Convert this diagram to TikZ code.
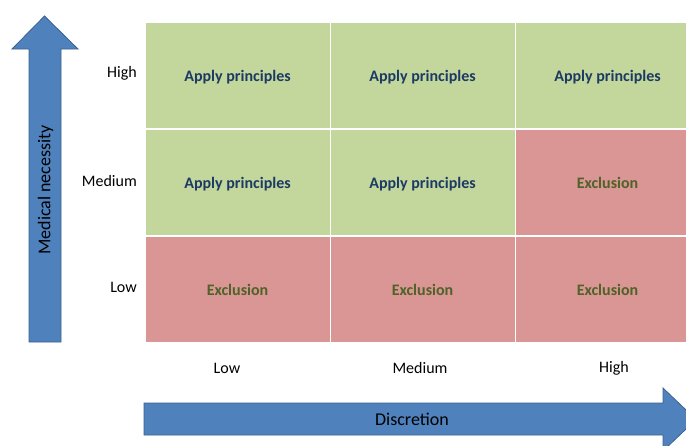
\documentclass[tikz,border=0pt]{standalone}
\usepackage{fontspec}
\setmainfont{Carlito}
\definecolor{arrowblue}{HTML}{4F81BD}
\definecolor{arrowedge}{HTML}{3A6292}
\definecolor{cellgreen}{HTML}{C3D69B}
\definecolor{cellred}{HTML}{D99694}
\definecolor{applytext}{HTML}{1B3A64}
\definecolor{excltext}{HTML}{4F6228}
\tikzset{
  cell/.style={minimum width=184pt, minimum height=105pt, inner sep=0pt, text height=11pt, text depth=0pt, draw=none, font=\fontsize{16}{19}\selectfont\bfseries},
  okcell/.style={cell, fill=cellgreen, text=applytext},
  excell/.style={cell, fill=cellred, text=excltext},
  axlabel/.style={font=\fontsize{16}{19}\selectfont, text=black, inner sep=0pt},
  bigarrow/.style={fill=arrowblue, draw=arrowedge, line width=0.8pt, line join=miter},
  arrowtext/.style={font=\fontsize{18}{21}\selectfont, text=black, inner sep=0pt}
}
\begin{document}
\begin{tikzpicture}[x=1pt, y=-1pt]
\useasboundingbox (0,0) rectangle (686,445);
\clip (0,0) rectangle (686,445);
\fill[white] (0,0) rectangle (686,445);
% grid
\node[okcell] (c11) at (237.5,75.5) {Apply principles};
\node[okcell] (c12) at (422.5,75.5) {Apply principles};
\node[okcell] (c13) at (607.5,75.5) {Apply principles};
\node[okcell] (c21) at (237.5,182.5) {Apply principles};
\node[okcell] (c22) at (422.5,182.5) {Apply principles};
\node[excell] (c23) at (607.5,182.5) {Exclusion};
\node[excell] (c31) at (237.5,289.5) {Exclusion};
\node[excell] (c32) at (422.5,289.5) {Exclusion};
\node[excell] (c33) at (607.5,289.5) {Exclusion};
% row labels
\node[axlabel, anchor=east] (rhigh) at (137,73) {High};
\node[axlabel, anchor=east] (rmed) at (137,181) {Medium};
\node[axlabel, anchor=east] (rlow) at (137,287) {Low};
% column labels
\node[axlabel] (clow) at (227,368) {Low};
\node[axlabel] (cmed) at (420,368) {Medium};
\node[axlabel] (chigh) at (614,368) {High};
% vertical arrow
\draw[bigarrow] (29,342) -- (29,49) -- (12,49) -- (44.5,16) -- (78,49) -- (61,49) -- (61,342) -- cycle;
\node[arrowtext, rotate=90] (vlab) at (45.5,190) {Medical necessity};
% horizontal arrow
\draw[bigarrow] (144,403) -- (663,403) -- (663,388) -- (696,419.5) -- (663,451) -- (663,435) -- (144,435) -- cycle;
\node[arrowtext] (hlab) at (412,419) {Discretion};
\end{tikzpicture}
\end{document}
